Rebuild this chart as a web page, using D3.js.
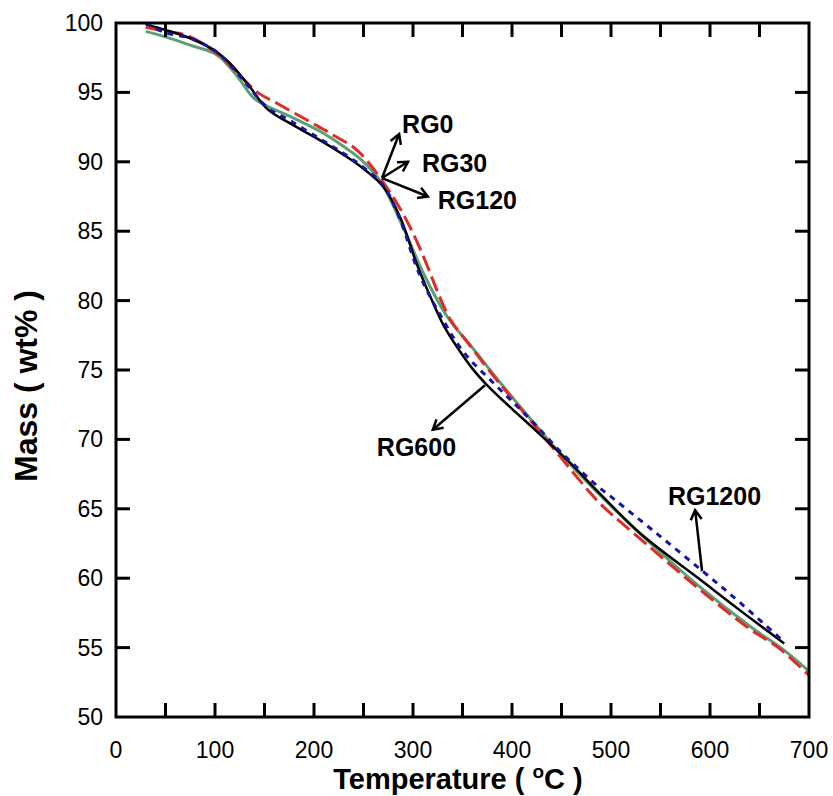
<!DOCTYPE html>
<html>
<head>
<meta charset="utf-8">
<script src="https://cdn.jsdelivr.net/npm/d3@7"></script>
<style>
  body { margin: 0; background: #fff; }
  svg { display: block; font-family: "Liberation Sans", Arial, sans-serif; }
</style>
</head>
<body>
<svg id="chart"></svg>
<script>
// ---- data (temperature in °C, mass in wt%) ----
const rg600 = [[30,99.9],[50,99.5],[75,98.9],[100,98.0],[115,97.1],[133,95.6],[153,93.8],[175,92.8],[205,91.6],[230,90.5],[250,89.5],[270,88.2],[287,86.0],[304,82.6],[318,80.2],[331,78.2],[345,76.6],[360,75.1],[375,73.9],[400,72.2],[420,70.9],[456,68.5],[490,66.0],[530,63.2],[590,59.9],[630,57.7],[675,55.3]];
const rg1200 = [[30,100.0],[50,99.3],[75,98.9],[100,98.0],[115,97.0],[133,95.5],[153,93.9],[175,93.0],[205,91.7],[230,90.6],[250,89.6],[270,88.3],[285,86.2],[307,81.8],[328,78.9],[351,76.3],[385,73.8],[419,71.4],[452,68.9],[487,66.6],[503,65.7],[543,63.4],[591,60.6],[631,58.2],[675,55.4]];
const rg0 = [[30,99.7],[50,99.4],[72,99.1],[102,97.8],[128,96.0],[143,95.0],[163,94.2],[198,92.8],[220,91.9],[244,90.8],[274,88.1],[297,85.3],[315,82.4],[325,80.6],[338,78.6],[355,77.0],[381,74.6],[396,73.3],[439,69.6],[476,66.4],[490,65.3],[540,62.2],[591,59.1],[641,56.3],[669,55.0],[700,53.0]];
const rg30 = [[30,99.4],[50,99.0],[75,98.4],[102,97.7],[122,96.2],[139,94.6],[153,94.0],[175,93.3],[206,92.2],[230,91.1],[250,90.0],[267,88.6],[290,85.3],[311,81.9],[335,78.8],[360,76.6],[388,74.1],[422,71.2],[456,68.4],[500,65.2],[540,62.5],[591,59.3],[641,56.5],[675,54.8],[700,53.3]];

const xTicks = [0, 100, 200, 300, 400, 500, 600, 700];
const xMinorTicks = [50, 150, 250, 350, 450, 550, 650];
const yTicks = [50, 55, 60, 65, 70, 75, 80, 85, 90, 95, 100];

// annotations in data units: arrow from (x1,y1) to (x2,y2), label at (lx,ly)
const notes = [
  {text: "RG0",    x1: 268.7, y1: 88.83, x2: 286, y2: 92.0, lx: 289, ly: 92.1},
  {text: "RG30",   x1: 268.7, y1: 88.83, x2: 295, y2: 90.0, lx: 309, ly: 89.3},
  {text: "RG120",  x1: 268.7, y1: 88.83, x2: 315, y2: 87.5, lx: 325, ly: 86.6},
  {text: "RG600",  x1: 372.7, y1: 73.9,  x2: 320, y2: 70.7, lx: 263.5, ly: 68.8},
  {text: "RG1200", x1: 592,   y1: 60.5,  x2: 585, y2: 64.9, lx: 557.5, ly: 65.3}
];

const W = 833, H = 796;
const svg = d3.select("#chart").attr("width", W).attr("height", H);

const x = d3.scaleLinear().domain([0, 700]).range([116, 809]);
const y = d3.scaleLinear().domain([50, 100]).range([717, 23]);

const line = d3.line()
  .x(d => x(d[0]))
  .y(d => y(d[1]))
  .curve(d3.curveCatmullRom.alpha(0.5));

// curves
const series = [
  {data: rg30,   color: "#5a9f78", width: 3,   dash: null},
  {data: rg0,    color: "#de2d26", width: 3,   dash: "16,6"},
  {data: rg600,  color: "#000000", width: 2.5, dash: null},
  {data: rg1200, color: "#1414a6", width: 3,   dash: "6,6"}
];

svg.append("g")
  .selectAll("path")
  .data(series)
  .join("path")
  .attr("d", d => line(d.data))
  .attr("fill", "none")
  .attr("stroke", d => d.color)
  .attr("stroke-width", d => d.width)
  .attr("stroke-dasharray", d => d.dash);

// frame with inward ticks on all four sides
const tickLen = 14;
const axes = svg.append("g").attr("stroke", "#000").attr("stroke-width", 3);

axes.append("rect")
  .attr("x", x(0)).attr("y", y(100))
  .attr("width", x(700) - x(0)).attr("height", y(50) - y(100))
  .attr("fill", "none");

const allX = xTicks.concat(xMinorTicks).filter(t => t > 0 && t < 700);
axes.selectAll(".xb").data(allX).join("line")
  .attr("x1", d => x(d)).attr("x2", d => x(d))
  .attr("y1", y(50)).attr("y2", y(50) - tickLen);
axes.selectAll(".xt").data(allX).join("line")
  .attr("x1", d => x(d)).attr("x2", d => x(d))
  .attr("y1", y(100)).attr("y2", y(100) + tickLen);

const innerY = yTicks.filter(t => t > 50 && t < 100);
axes.selectAll(".yl").data(innerY).join("line")
  .attr("y1", d => y(d)).attr("y2", d => y(d))
  .attr("x1", x(0)).attr("x2", x(0) + tickLen);
axes.selectAll(".yr").data(innerY).join("line")
  .attr("y1", d => y(d)).attr("y2", d => y(d))
  .attr("x1", x(700)).attr("x2", x(700) - tickLen);

// tick labels
svg.append("g")
  .selectAll("text")
  .data(xTicks)
  .join("text")
  .attr("x", d => x(d))
  .attr("y", 758)
  .attr("text-anchor", "middle")
  .attr("font-size", 23)
  .text(d => d);

svg.append("g")
  .selectAll("text")
  .data(yTicks)
  .join("text")
  .attr("x", x(0) - 13)
  .attr("y", d => y(d))
  .attr("dy", "0.35em")
  .attr("text-anchor", "end")
  .attr("font-size", 23)
  .text(d => d);

// axis titles
const xt = svg.append("text")
  .attr("x", 458)
  .attr("y", 789)
  .attr("text-anchor", "middle")
  .attr("font-size", 29)
  .attr("font-weight", "bold");
xt.append("tspan").text("Temperature ( ");
xt.append("tspan").attr("font-size", 19).attr("dy", -11).text("o");
xt.append("tspan").attr("dy", 11).text("C )");

svg.append("text")
  .attr("transform", "translate(37,386) rotate(-90)")
  .attr("text-anchor", "middle")
  .attr("font-size", 32)
  .attr("font-weight", "bold")
  .text("Mass ( wt% )");

// annotations
const ann = svg.append("g");
notes.forEach(n => {
  const x1 = x(n.x1), y1 = y(n.y1), x2 = x(n.x2), y2 = y(n.y2);
  const a = Math.atan2(y2 - y1, x2 - x1);
  const hl = 11, ha = Math.PI / 6;
  ann.append("line")
    .attr("x1", x1).attr("y1", y1).attr("x2", x2).attr("y2", y2)
    .attr("stroke", "#000").attr("stroke-width", 2.5);
  ann.append("path")
    .attr("d", `M${x2 - hl * Math.cos(a - ha)},${y2 - hl * Math.sin(a - ha)}L${x2},${y2}L${x2 - hl * Math.cos(a + ha)},${y2 - hl * Math.sin(a + ha)}`)
    .attr("fill", "none")
    .attr("stroke", "#000")
    .attr("stroke-width", 2.5)
    .attr("stroke-linejoin", "miter");
  ann.append("text")
    .attr("x", x(n.lx))
    .attr("y", y(n.ly))
    .attr("font-size", 25)
    .attr("font-weight", "bold")
    .text(n.text);
});
</script>
</body>
</html>
